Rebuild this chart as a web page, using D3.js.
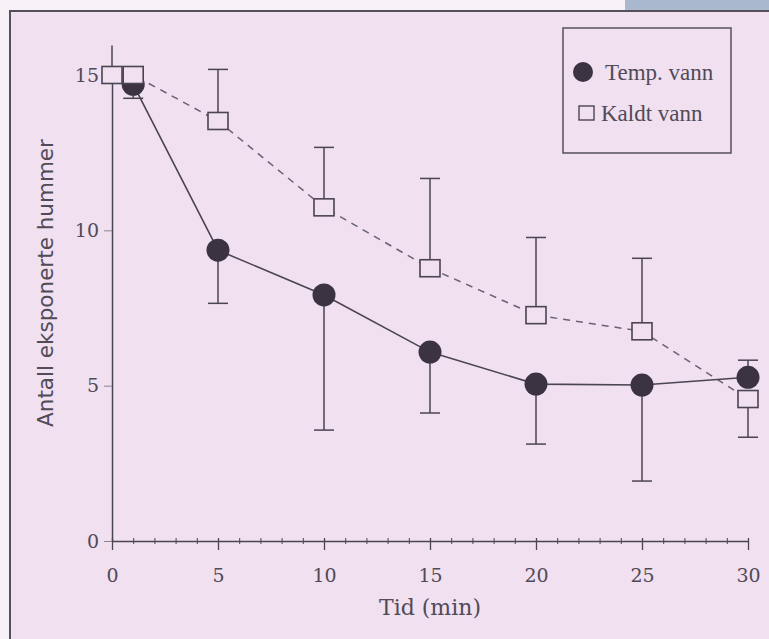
<!DOCTYPE html>
<html lang="no">
	<head>
		<meta charset="utf-8">
		<title>hummer</title>
		<script type="text/javascript" src="https://d3js.org/d3.v7.min.js"></script>
		<style type="text/css">
            body{margin:0;background:#f8f1f7;}
            #chart1{width:769px;height:639px;}
		</style>
	</head>
	<body>
    <div id="chart1"></div>
		<script type="text/javascript">
            // data
            var tid = [0, 1, 5, 10, 15, 20, 25, 30]
            var tempVann = [null, 14.7, 9.36, 7.92, 6.08, 5.05, 5.02, 5.27]
            var tempLow = [null, 14.25, 7.65, 3.57, 4.12, 3.12, 1.93, null]
            var tempHigh = [null, null, null, null, null, null, null, 5.82]
            var kaldtVann = [15, 15, 13.52, 10.74, 8.78, 7.27, 6.75, 4.57]
            var kaldtHigh = [15.95, null, 15.18, 12.67, 11.67, 9.77, 9.1, null]
            var kaldtLow = [null, null, null, null, null, null, null, 3.34]
            var xTicks = [0, 5, 10, 15, 20, 25, 30]
            var yTicks = [0, 5, 10, 15]
            var seriesNames = ["Temp. vann", "Kaldt vann"]

            var w = 769
            var h = 639
            var bg = "#f0e0f0"
            var ink = "#4b4451"
            var txt = "#514a57"

            var svg = d3.select("#chart1")
                        .append("svg")
                        .attr("width", w)
                        .attr("height", h)

            // scanned page: pale margin, blue corner and the framed figure
            svg.append("rect").attr("width", w).attr("height", h).attr("fill", "#f8f1f7")
            svg.append("rect").attr("x", 625).attr("y", 0).attr("width", 144).attr("height", 11).attr("fill", "#a9b7cf")
            svg.append("rect")
                .attr("x", 10).attr("y", 11)
                .attr("width", w + 20).attr("height", h + 20)
                .attr("fill", bg)
                .attr("stroke", "#55505a")
                .attr("stroke-width", 2)

            var xScale = d3.scaleLinear().domain([0, 30]).range([112, 748])
            var yScale = d3.scaleLinear().domain([0, 15]).range([541, 75])

            // x axis with minor ticks every minute
            var xMinor = d3.axisBottom(xScale).ticks(30).tickSize(3).tickFormat("")
            svg.append("g")
                .attr("class", "axis")
                .attr("transform", "translate(0," + yScale(0) + ")")
                .call(xMinor)
                .call(function(g){
                    g.select(".domain").remove()
                    g.selectAll("line").attr("y1", -3).attr("stroke", ink)
                })
            var xAxis = d3.axisBottom(xScale).tickValues(xTicks).tickSize(9).tickPadding(19).tickSizeOuter(0)
            svg.append("g")
                .attr("class", "axis")
                .attr("transform", "translate(0," + yScale(0) + ")")
                .call(xAxis)
                .call(function(g){
                    g.select(".domain").attr("stroke", ink).attr("stroke-width", 1.5)
                    g.selectAll("line").attr("y1", -3).attr("stroke", ink).attr("stroke-width", 1.3)
                    g.selectAll("text").attr("fill", txt)
                        .style("font-family", "'DejaVu Serif'").style("font-size", "19px")
                })

            var yAxis = d3.axisLeft(yScale).tickValues(yTicks).tickSize(8).tickPadding(5).tickSizeOuter(0)
            svg.append("g")
                .attr("class", "axis")
                .attr("transform", "translate(" + xScale(0) + ",0)")
                .call(yAxis)
                .call(function(g){
                    g.select(".domain").attr("stroke", ink).attr("stroke-width", 1.5)
                    g.selectAll("line").attr("stroke", "#8a8290").attr("stroke-width", 1)
                    g.selectAll("text").attr("fill", txt)
                        .style("font-family", "'DejaVu Serif'").style("font-size", "19px")
                })

            // axis titles
            svg.append("text")
                .attr("x", 430).attr("y", 615)
                .attr("text-anchor", "middle")
                .attr("fill", txt)
                .style("font-family", "'DejaVu Serif'").style("font-size", "22px")
                .text("Tid (min)")
            svg.append("text")
                .attr("transform", "translate(53,283) rotate(-90)")
                .attr("text-anchor", "middle")
                .attr("fill", txt)
                .style("font-family", "'DejaVu Sans'").style("font-size", "21.5px")
                .text("Antall eksponerte hummer")

            var temp = tid.map(function(t, i){ return {t: t, v: tempVann[i], lo: tempLow[i], hi: tempHigh[i]} })
                          .filter(function(d){ return d.v != null })
            var kald = tid.map(function(t, i){ return {t: t, v: kaldtVann[i], lo: kaldtLow[i], hi: kaldtHigh[i]} })

            // error bars: one segment from mean to end, with a cap
            function errorBars(data, cls){
                var bars = []
                data.forEach(function(d){
                    if(d.lo != null) bars.push({t: d.t, a: d.v, b: d.lo})
                    if(d.hi != null) bars.push({t: d.t, a: d.v, b: d.hi})
                })
                svg.selectAll("." + cls)
                    .data(bars)
                    .enter()
                    .append("line")
                    .attr("class", cls)
                    .attr("x1", function(d){ return xScale(d.t) })
                    .attr("x2", function(d){ return xScale(d.t) })
                    .attr("y1", function(d){ return yScale(d.a) })
                    .attr("y2", function(d){ return yScale(d.b) })
                    .attr("stroke", ink).attr("stroke-width", 1.5)
                svg.selectAll("." + cls + "cap")
                    .data(bars.filter(function(d){ return d.t > 0 }))
                    .enter()
                    .append("line")
                    .attr("class", cls + "cap")
                    .attr("x1", function(d){ return xScale(d.t) - 10 })
                    .attr("x2", function(d){ return xScale(d.t) + 10 })
                    .attr("y1", function(d){ return yScale(d.b) })
                    .attr("y2", function(d){ return yScale(d.b) })
                    .attr("stroke", ink).attr("stroke-width", 1.5)
            }
            errorBars(temp, "errT")
            errorBars(kald, "errK")

            var line = d3.line()
                .x(function(d){ return xScale(d.t) })
                .y(function(d){ return yScale(d.v) })

            svg.append("path")
                .datum(kald)
                .attr("d", line)
                .attr("fill", "none")
                .attr("stroke", "#6a6270")
                .attr("stroke-width", 1.5)
                .attr("stroke-dasharray", "7,6")
            svg.append("path")
                .datum(temp)
                .attr("d", line)
                .attr("fill", "none")
                .attr("stroke", ink)
                .attr("stroke-width", 1.6)

            svg.selectAll("circle.temp")
                .data(temp)
                .enter()
                .append("circle")
                .attr("class", "temp")
                .attr("cx", function(d){ return xScale(d.t) })
                .attr("cy", function(d){ return yScale(d.v) })
                .attr("r", 11.5)
                .attr("fill", "#3b3341")

            svg.selectAll("rect.kald")
                .data(kald)
                .enter()
                .append("rect")
                .attr("class", "kald")
                .attr("x", function(d){ return xScale(d.t) - 10 })
                .attr("y", function(d){ return yScale(d.v) - 8.5 })
                .attr("width", 20)
                .attr("height", 17)
                .attr("fill", bg)
                .attr("stroke", ink)
                .attr("stroke-width", 1.6)

            // legend
            var legend = svg.append("g").attr("transform", "translate(563,28)")
            legend.append("rect")
                .attr("width", 168).attr("height", 125)
                .attr("fill", "none")
                .attr("stroke", "#55505a").attr("stroke-width", 1.5)
            legend.append("circle").attr("cx", 20).attr("cy", 44).attr("r", 10).attr("fill", "#3b3341")
            legend.append("rect").attr("x", 16).attr("y", 78).attr("width", 15).attr("height", 14)
                .attr("fill", "none").attr("stroke", ink).attr("stroke-width", 1.4)
            legend.selectAll(".ltext")
                .data(seriesNames)
                .enter()
                .append("text")
                .attr("class", "ltext")
                .attr("x", function(d, i){ return i == 0 ? 42 : 38 })
                .attr("y", function(d, i){ return i == 0 ? 52 : 93 })
                .attr("fill", txt)
                .style("font-family", "'Liberation Serif'").style("font-size", "23px")
                .text(function(d){ return d })
		</script>
	</body>
</html>
